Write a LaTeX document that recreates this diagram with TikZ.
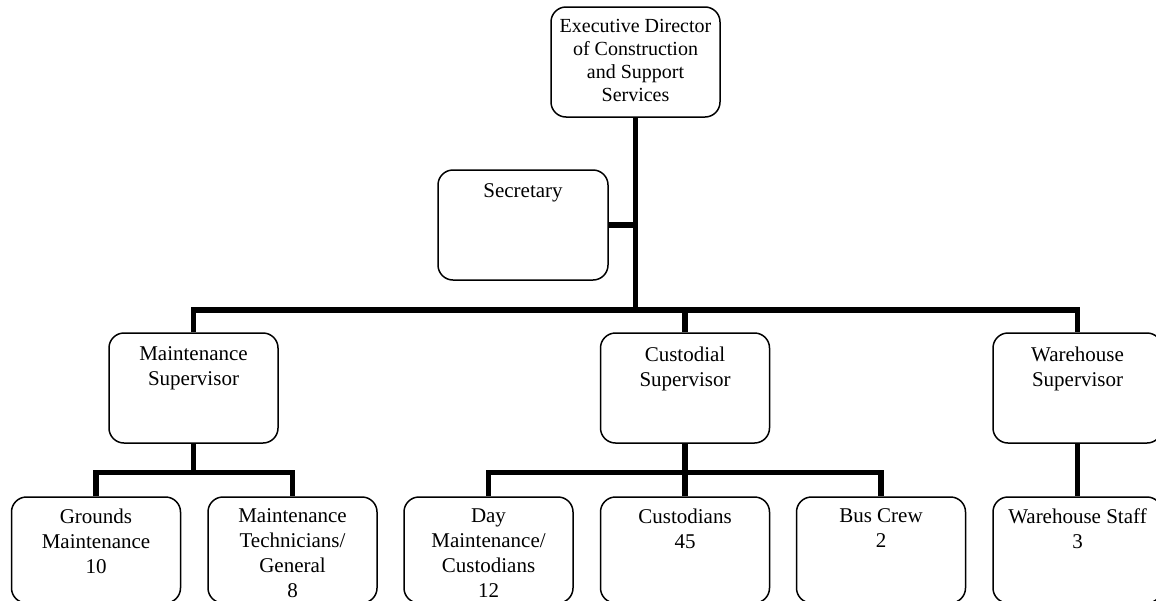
\documentclass[tikz,border=0pt]{standalone}
\usepackage{fontspec}
\setmainfont{Liberation Serif}
\begin{document}
\begin{tikzpicture}[x=1pt,y=-1pt,
  box/.style={draw=black, line width=1.5pt, rounded corners=15pt, fill=white,
    minimum width=169pt, minimum height=110pt, inner sep=0pt},
  lowbox/.style={box, minimum height=106pt},
  conn/.style={draw=black, line width=5.5pt, line join=miter},
  txt/.style={anchor=north, align=center, inner sep=0pt, yshift=-14pt,
    font=\fontsize{21}{25}\selectfont},
]
\useasboundingbox (0,0) rectangle (1156,600);

% boxes
\node[box] (exec) at (635.5,62) {};
\node[box, minimum width=170pt] (sec) at (523,225) {};
\node[box] (ms) at (193.5,388) {};
\node[box] (cs) at (685,388) {};
\node[box] (ws) at (1077.5,388) {};
\node[lowbox] (gm) at (96,550) {};
\node[lowbox] (mt) at (292.5,550) {};
\node[lowbox] (dm) at (488.5,550) {};
\node[lowbox] (cu) at (685,550) {};
\node[lowbox] (bc) at (881,550) {};
\node[lowbox] (wst) at (1077.5,550) {};

% box texts
\node[txt, yshift=1pt, font=\fontsize{20}{23}\selectfont] (exec-t) at (exec.north)
  {Executive Director\\of Construction\\and Support\\Services};
\node[txt] (sec-t) at (sec.north) {Secretary};
\node[txt] (ms-t) at (ms.north) {Maintenance\\Supervisor};
\node[txt] (cs-t) at (cs.north) {Custodial\\Supervisor};
\node[txt] (ws-t) at (ws.north) {Warehouse\\Supervisor};
\node[txt, yshift=2pt] (gm-t) at (gm.north) {Grounds\\Maintenance\\10};
\node[txt, yshift=2pt] (mt-t) at (mt.north) {Maintenance\\Technicians/\\General\\8};
\node[txt, yshift=2pt] (dm-t) at (dm.north) {Day\\Maintenance/\\Custodians\\12};
\node[txt, yshift=2pt] (cu-t) at (cu.north) {Custodians\\45};
\node[txt, yshift=2pt] (bc-t) at (bc.north) {Bus Crew\\2};
\node[txt, yshift=2pt] (wst-t) at (wst.north) {Warehouse Staff\\3};

% junction points of the connector buses
\coordinate (bus) at (635.5,310);
\coordinate (msb) at (193.5,472.7);
\coordinate (csb) at (685,472.7);

% connectors
\draw[conn] (exec.south) -- (bus);
\draw[conn] (sec.east) -- (sec.east -| bus);
\draw[conn] (ms.north) |- (bus) -| (ws.north);
\draw[conn] (cs.north) -- (cs.north |- bus);
\draw[conn] (ms.south) -- (msb);
\draw[conn] (gm.north) |- (msb) -| (mt.north);
\draw[conn] (cs.south) -- (csb);
\draw[conn] (dm.north) |- (csb) -| (bc.north);
\draw[conn] (cu.north) -- (csb);
\draw[conn] (ws.south) -- (wst.north);
\end{tikzpicture}
\end{document}
